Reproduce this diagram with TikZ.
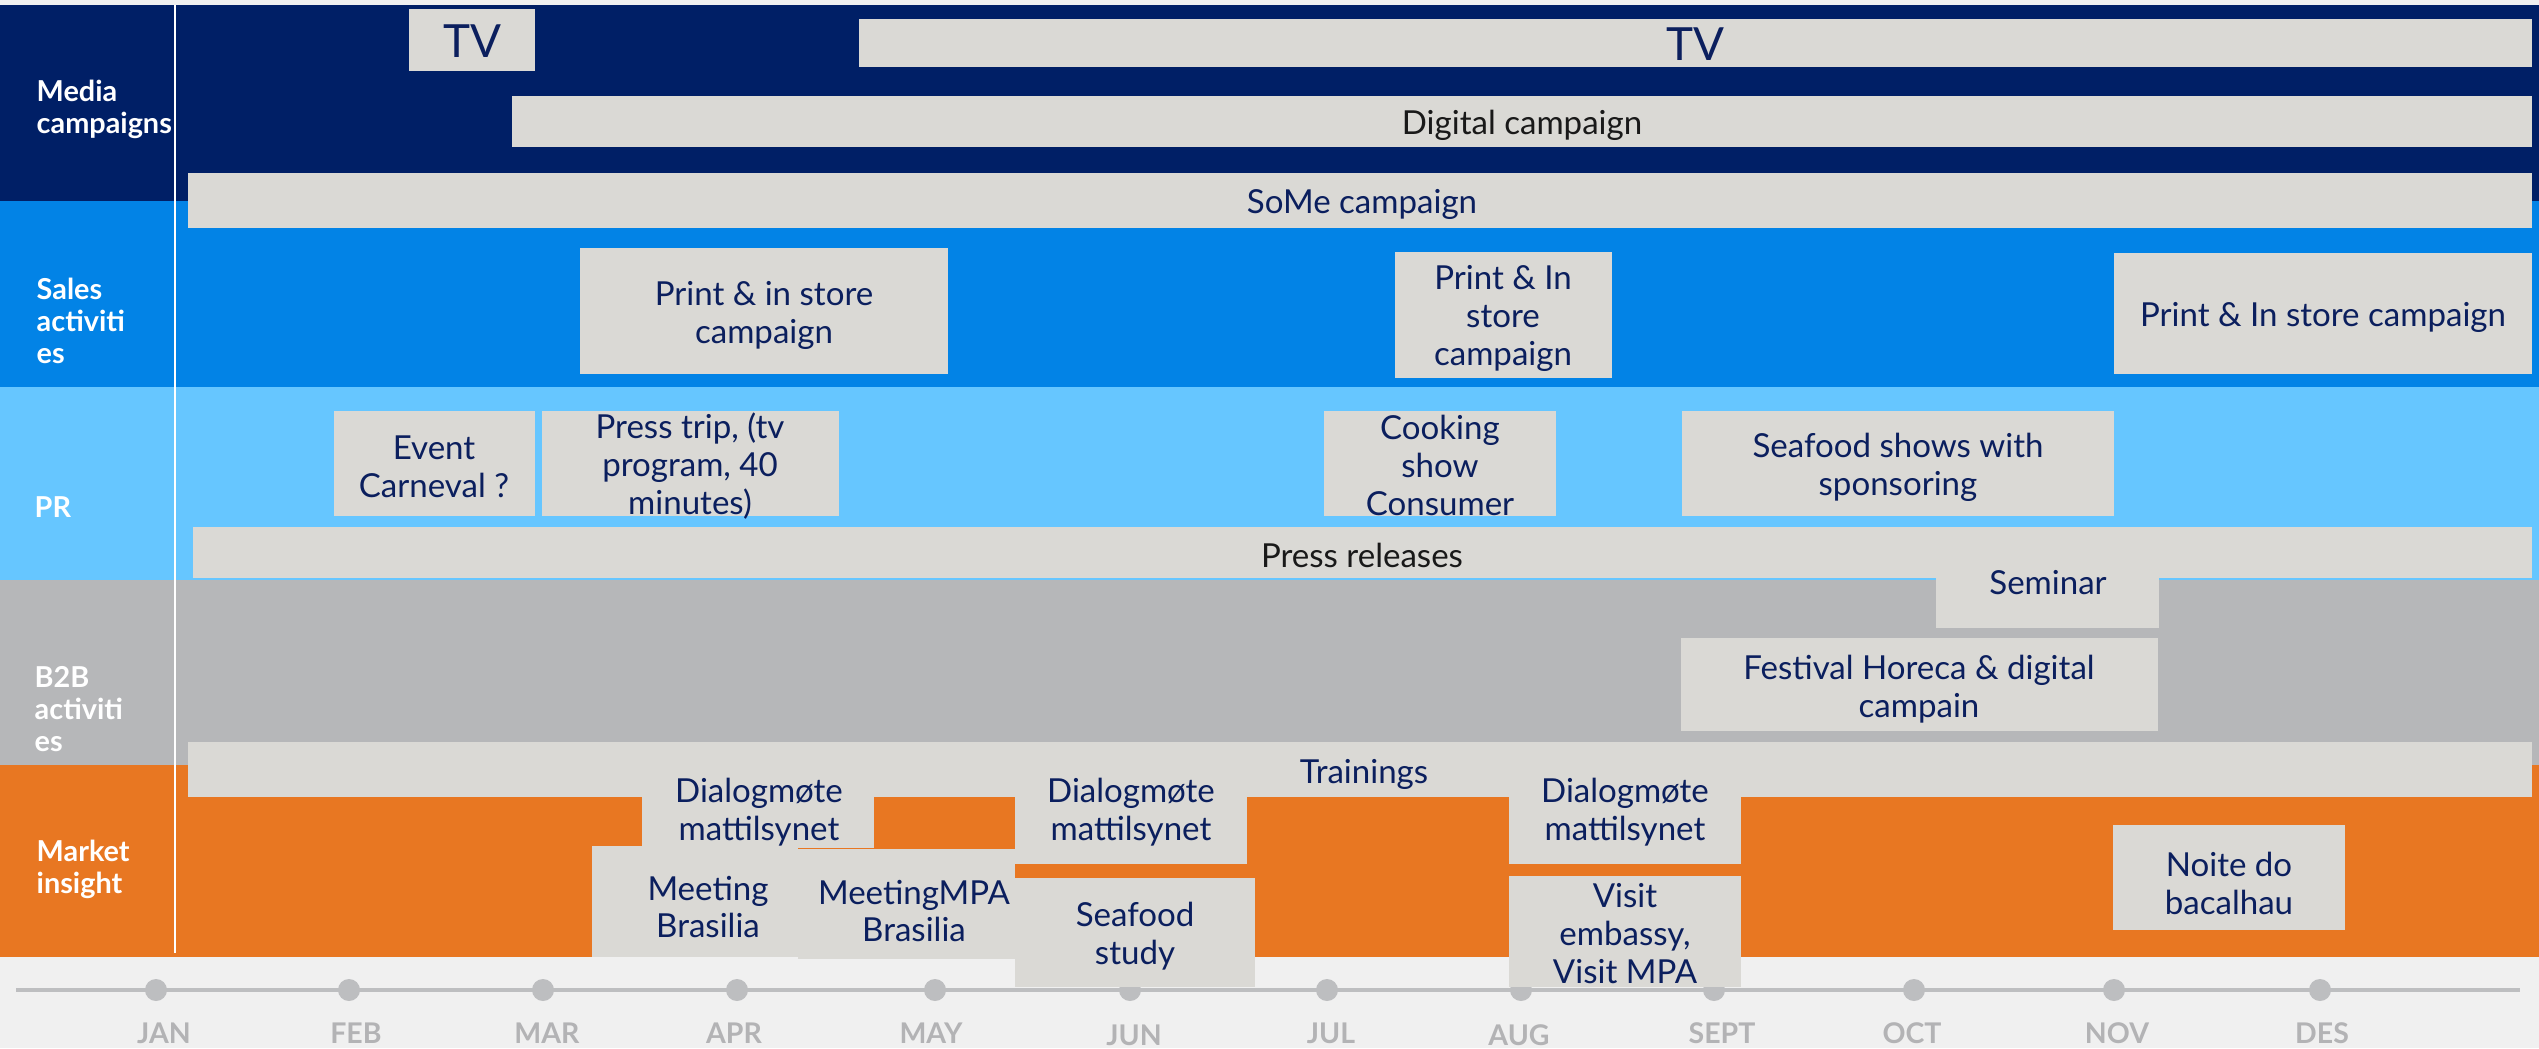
\documentclass[tikz,border=0pt]{standalone}
\usepackage{fontspec}
\setmainfont{Lato}
\usepackage{tikz}
\definecolor{navy}{HTML}{001F66}
\definecolor{salesblue}{HTML}{0283E6}
\definecolor{prblue}{HTML}{66C6FF}
\definecolor{btobgray}{HTML}{B6B7B9}
\definecolor{marketorange}{HTML}{E87722}
\definecolor{barfill}{HTML}{DAD9D5}
\definecolor{paper}{HTML}{F0F0F0}
\definecolor{ink}{HTML}{0B1F5E}
\definecolor{axisgray}{HTML}{BDBEC0}
\definecolor{monthgray}{HTML}{B3B3B5}
\tikzset{
    txt/.style={text=ink, align=center, inner sep=0pt, font=\fontsize{9.4}{10.8}\selectfont},
    tvtxt/.style={txt, font=\fontsize{13}{14}\selectfont},
    darktxt/.style={txt, text=black!90},
    lane/.style={text=white, align=left, anchor=west, inner sep=0pt, font=\bfseries\fontsize{8.2}{9.1}\selectfont},
    month/.style={text=monthgray, inner sep=0pt, font=\bfseries\fontsize{8.1}{9}\selectfont}
}

\begin{document}
\begin{tikzpicture}[x=0.01cm, y=-0.01cm]
                \useasboundingbox (0,0) rectangle (2539,1048);
                \fill[paper] (0,0) rectangle (2539,1048);
                \fill[navy] (0,5) rectangle (2539,201);
                \fill[salesblue] (0,201) rectangle (2539,387);
                \fill[prblue] (0,387) rectangle (2539,580);
                \fill[btobgray] (0,580) rectangle (2539,765);
                \fill[marketorange] (0,765) rectangle (2539,957);
                \draw[white, line width=0.5pt] (175,5) -- (175,953);
                \node[lane] (media) at (36,109) {Media\\campaigns};
                \node[lane] (sales) at (36,321) {Sales\\activiti\\es};
                \node[lane] (pr) at (34,507) {PR};
                \node[lane] (btob) at (34,709) {B2B\\activiti\\es};
                \node[lane] (market) at (36,869) {Market\\insight};
                \draw[axisgray, line width=1pt] (16,990) -- (2520,990);
                \fill[axisgray] (156,990) circle (0.11cm);
                \fill[axisgray] (349,990) circle (0.11cm);
                \fill[axisgray] (543,990) circle (0.11cm);
                \fill[axisgray] (737,990) circle (0.11cm);
                \fill[axisgray] (935,990) circle (0.11cm);
                \fill[axisgray] (1130,990) circle (0.11cm);
                \fill[axisgray] (1327,990) circle (0.11cm);
                \fill[axisgray] (1521,990) circle (0.11cm);
                \fill[axisgray] (1714,990) circle (0.11cm);
                \fill[axisgray] (1914,990) circle (0.11cm);
                \fill[axisgray] (2114,990) circle (0.11cm);
                \fill[axisgray] (2320,990) circle (0.11cm);
                \node[month] (jan) at (164,1033) {JAN};
                \node[month] (feb) at (356,1033) {FEB};
                \node[month] (mar) at (547,1033) {MAR};
                \node[month] (apr) at (734,1033) {APR};
                \node[month] (may) at (931,1033) {MAY};
                \node[month] (jun) at (1134,1035) {JUN};
                \node[month] (jul) at (1331,1033) {JUL};
                \node[month] (aug) at (1519,1035) {AUG};
                \node[month] (sept) at (1722,1033) {SEPT};
                \node[month] (oct) at (1912,1033) {OCT};
                \node[month] (nov) at (2117,1033) {NOV};
                \node[month] (des) at (2322,1033) {DES};
                \fill[barfill] (409,9) rectangle (535,71);
                \fill[barfill] (859,19) rectangle (2532,67);
                \fill[barfill] (512,96) rectangle (2532,147);
                \fill[barfill] (188,173) rectangle (2532,228);
                \fill[barfill] (580,248) rectangle (948,374);
                \fill[barfill] (1395,252) rectangle (1612,378);
                \fill[barfill] (2114,253) rectangle (2532,374);
                \fill[barfill] (334,411) rectangle (535,516);
                \fill[barfill] (542,411) rectangle (839,516);
                \fill[barfill] (1324,411) rectangle (1556,516);
                \fill[barfill] (1682,411) rectangle (2114,516);
                \fill[barfill] (193,527) rectangle (2532,578);
                \fill[barfill] (1936,536) rectangle (2159,628);
                \fill[barfill] (1681,638) rectangle (2158,731);
                \fill[barfill] (188,742) rectangle (2532,797);
                \fill[barfill] (642,770) rectangle (874,848);
                \fill[barfill] (592,846) rectangle (798,957);
                \fill[barfill] (798,849) rectangle (1015,959);
                \fill[barfill] (1015,770) rectangle (1247,864);
                \fill[barfill] (1015,878) rectangle (1255,987);
                \fill[barfill] (1509,770) rectangle (1741,864);
                \fill[barfill] (1509,876) rectangle (1741,987);
                \fill[barfill] (2113,825) rectangle (2345,930);
                \node[tvtxt] (tvshort) at (472,41) {TV};
                \node[tvtxt] (tvlong) at (1695,44) {TV};
                \node[darktxt] (digital) at (1522,125) {Digital campaign};
                \node[txt] (some) at (1362,204) {SoMe campaign};
                \node[txt] (printspring) at (764,315) {Print \& in store\\campaign};
                \node[txt] (printsummer) at (1503,318) {Print \& In\\store\\campaign};
                \node[txt] (printwinter) at (2323,317) {Print \& In store campaign};
                \node[txt] (carneval) at (434,467) {Event\\Carneval ?};
                \node[txt] (presstrip) at (690,466) {Press trip, (tv\\program, 40\\minutes)};
                \node[txt] (cooking) at (1440,465) {Cooking\\show\\Consumer};
                \node[txt] (seafoodshows) at (1898,467) {Seafood shows with\\sponsoring};
                \node[darktxt] (pressrel) at (1362,555) {Press releases};
                \node[txt] (seminar) at (2048,583) {Seminar};
                \node[txt] (festival) at (1919,689) {Festival Horeca \& digital\\campain};
                \node[txt] (trainings) at (1364,774) {Trainings};
                \node[txt] (dialogapr) at (759,812) {Dialogmøte\\mattilsynet};
                \node[txt] (meetbrasilia) at (708,907) {Meeting\\Brasilia};
                \node[txt] (mpabrasilia) at (914,911) {MeetingMPA\\Brasilia};
                \node[txt] (dialogjun) at (1131,812) {Dialogmøte\\mattilsynet};
                \node[txt] (seafoodstudy) at (1135,936) {Seafood\\study};
                \node[txt] (dialogaug) at (1625,812) {Dialogmøte\\mattilsynet};
                \node[txt] (visit) at (1625,934) {Visit\\embassy,\\Visit MPA};
                \node[txt] (noite) at (2229,883) {Noite do\\bacalhau};
            \end{tikzpicture}
\end{document}
